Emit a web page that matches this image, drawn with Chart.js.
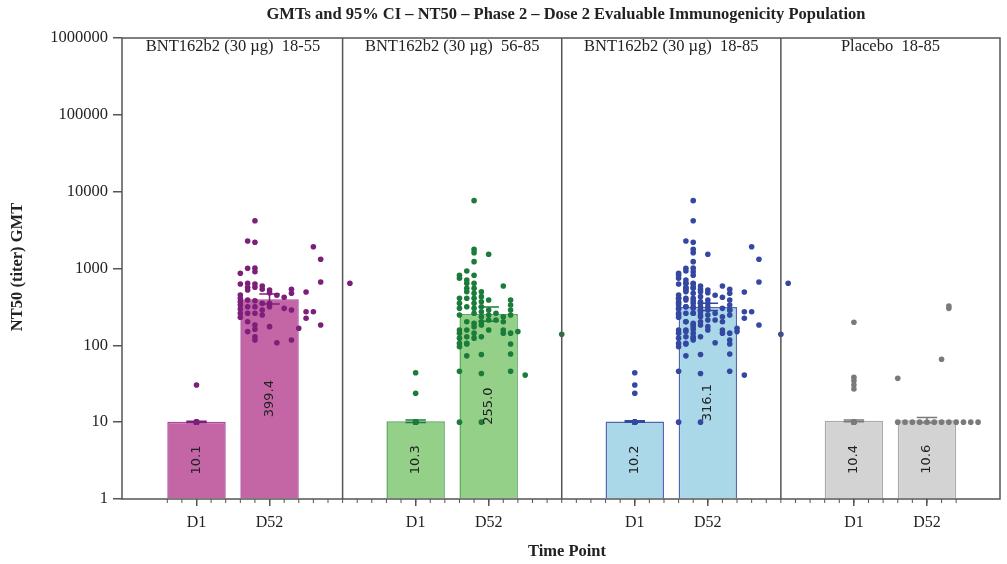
<!DOCTYPE html>
<html>
<head>
<meta charset="utf-8">
<script src="https://cdn.jsdelivr.net/npm/chart.js@4.4.0/dist/chart.umd.min.js"></script>
<style>
  body { margin: 0; background: #fff; }
  #wrap { width: 1007px; height: 564px; }
</style>
</head>
<body>
<div id="wrap"><canvas id="chart"></canvas></div>
<script>
const groups = ['BNT162b2 (30 µg)  18-55', 'BNT162b2 (30 µg)  56-85', 'BNT162b2 (30 µg)  18-85', 'Placebo  18-85'];
const timePoints = ['D1', 'D52'];
const gmt = [[10.1, 399.4], [10.3, 255.0], [10.2, 316.1], [10.4, 10.6]];
const ciLow = [[9.9, 344], [9.9, 206], [10.0, 283], [10.1, 9.8]];
const ciHigh = [[10.3, 464], [10.7, 315], [10.4, 353], [10.7, 11.5]];
const yTicks = [1, 10, 100, 1000, 10000, 100000, 1000000];

// individual titers, grouped by jitter column: [offset, [values]]
const d1_1855 = [[0, [10, 10, 10, 10, 10, 10, 10, 10, 30.5]]];
const d52_1855 = [
  [-2, [866, 629, 452, 410, 370, 335, 297, 261, 232]],
  [-1.5, [2280, 1006, 642, 569, 525, 389, 318, 261, 203, 151]],
  [-1, [4190, 2193, 1010, 909, 629, 569, 381, 318, 261, 184, 162, 129, 117]],
  [-0.5, [592, 536, 352, 288, 248]],
  [0, [525, 484, 352, 318, 175]],
  [0.5, [448, 108]],
  [1, [422, 303]],
  [1.5, [536, 476, 288, 117]],
  [2, [167]],
  [2.5, [495, 274, 225]],
  [3, [1923, 274]],
  [3.5, [1318, 667, 184]],
  [5.5, [642]]
];
const d1_5685 = [[0, [10, 10, 10, 10, 10, 10, 10, 10, 44, 23.8]]];
const d52_5685 = [
  [-2, [816, 746, 410, 352, 303, 248, 158, 144, 124, 106, 96, 46, 10]],
  [-1.5, [929, 708, 642, 553, 499, 410, 318, 203, 158, 129, 106, 104, 73]],
  [-1, [7640, 1778, 1607, 1227, 816, 642, 553, 476, 410, 352, 303, 261, 194, 175, 144, 124]],
  [-0.5, [499, 430, 370, 318, 274, 236, 203, 184, 129, 76, 43, 10]],
  [0, [1531, 389, 288, 248, 214, 158]],
  [0.5, [261, 214]],
  [1, [592, 236, 203, 158, 144]],
  [1.5, [389, 335, 288, 248, 144, 104, 77, 46]],
  [2, [151]],
  [2.5, [41]],
  [5, [139]]
];
const d1_1885 = [[0, [10, 10, 10, 10, 10, 10, 10, 10, 10, 10, 44, 30.5, 23.8]]];
const d52_1885 = [
  [-2, [866, 816, 746, 629, 452, 410, 410, 370, 352, 335, 303, 297, 261, 248, 232, 158, 144, 124, 106, 96, 46, 10]],
  [-1.5, [2280, 1006, 929, 708, 642, 642, 569, 553, 525, 499, 410, 389, 318, 318, 261, 203, 203, 158, 151, 129, 106, 104, 73]],
  [-1, [7640, 4190, 2193, 1778, 1607, 1227, 1010, 909, 816, 642, 629, 569, 553, 476, 410, 381, 352, 318, 303, 261, 261, 194, 184, 175, 162, 144, 129, 124, 117]],
  [-0.5, [592, 536, 499, 430, 370, 352, 318, 288, 274, 248, 236, 203, 184, 129, 76, 43, 10]],
  [0, [1531, 525, 484, 389, 352, 318, 288, 248, 214, 175, 158]],
  [0.5, [448, 261, 214, 108]],
  [1, [592, 422, 303, 236, 203, 158, 144]],
  [1.5, [536, 476, 389, 335, 288, 288, 248, 144, 117, 104, 77, 46]],
  [2, [167, 151]],
  [2.5, [495, 274, 225, 41]],
  [3, [1923, 274]],
  [3.5, [1318, 667, 184]],
  [5, [139]],
  [5.5, [642]]
];
const d1_plac = [[0, [10, 10, 10, 10, 10, 10, 10, 10, 10, 10, 199.5, 38.4, 34.7, 30.5, 27]]];
const d52_plac = [
  [-2, [10, 37.2]], [-1.5, [10]], [-1, [10]], [-0.5, [10]], [0, [10]], [0.5, [10]],
  [1, [10, 65.8]], [1.5, [10, 325, 303]], [2, [10]], [2.5, [10]], [3, [10]], [3.5, [10]]
];
const titers = [[d1_1855, d52_1855], [d1_5685, d52_5685], [d1_1885, d52_1885], [d1_plac, d52_plac]];

const barFill = ['#c466a6', '#95d088', '#aad8e8', '#d3d3d3'];
const barLine = ['#a8489a', '#56a95c', '#5565b6', '#a9a9a9'];
const dotColor = ['#7c1f7a', '#1b7b3b', '#3448a2', '#7a7a7a'];
const axisColor = '#555';
const serif = '"Liberation Serif", "Times New Roman", serif';

const panelWidth = 15;
const posOf = (g, t) => panelWidth * g + 5 + 5 * t;
const majorTicks = groups.flatMap((_, g) => timePoints.map((_, t) => posOf(g, t)));

const toPoints = (center, cols) => cols.flatMap(([off, vals]) => vals.map(v => ({ x: center + off, y: v })));

const datasets = [{
  type: 'bar',
  order: 3,
  data: gmt.flatMap((pair, g) => pair.map((v, t) => ({ x: posOf(g, t), y: v }))),
  backgroundColor: gmt.flatMap((pair, g) => pair.map(() => barFill[g])),
  borderColor: gmt.flatMap((pair, g) => pair.map(() => barLine[g])),
  borderWidth: 1.5,
  barPercentage: 0.8,
  categoryPercentage: 1,
  base: 1
}];
titers.forEach((pair, g) => pair.forEach((cols, t) => {
  datasets.push({
    type: 'scatter',
    order: 1,
    data: toPoints(posOf(g, t), cols),
    backgroundColor: dotColor[g],
    borderWidth: 0,
    pointRadius: 2.8
  });
}));

const decor = {
  id: 'decor',
  afterDatasetsDraw(chart) {
    const { ctx, scales: { x, y } } = chart;
    // confidence intervals
    gmt.forEach((pair, g) => pair.forEach((v, t) => {
      const cx = x.getPixelForValue(posOf(g, t));
      const half = x.getPixelForValue(posOf(g, t) + 0.7) - cx;
      const lo = y.getPixelForValue(ciLow[g][t]);
      const hi = y.getPixelForValue(ciHigh[g][t]);
      ctx.save();
      ctx.strokeStyle = dotColor[g];
      ctx.lineWidth = 1.5;
      ctx.beginPath();
      ctx.moveTo(cx, lo); ctx.lineTo(cx, hi);
      ctx.moveTo(cx - half, lo); ctx.lineTo(cx + half, lo);
      ctx.moveTo(cx - half, hi); ctx.lineTo(cx + half, hi);
      ctx.stroke();
      ctx.restore();
    }));
    // value labels inside bars
    const meta = chart.getDatasetMeta(0);
    const values = gmt.flat();
    meta.data.forEach((bar, i) => {
      ctx.save();
      ctx.translate(bar.x, (bar.y + bar.base) / 2);
      ctx.rotate(-Math.PI / 2);
      ctx.font = '13px "DejaVu Sans", sans-serif';
      ctx.fillStyle = '#222';
      ctx.textAlign = 'center';
      ctx.textBaseline = 'middle';
      ctx.fillText(values[i].toFixed(1), 0, 0);
      ctx.restore();
    });
  },
  afterDraw(chart) {
    const { ctx, chartArea: a, scales: { x } } = chart;
    ctx.save();
    ctx.strokeStyle = axisColor;
    ctx.lineWidth = 1.5;
    ctx.strokeRect(a.left, a.top, a.right - a.left, a.bottom - a.top);
    // panel dividers
    ctx.beginPath();
    for (let g = 1; g < groups.length; g++) {
      const px = x.getPixelForValue(g * panelWidth);
      ctx.moveTo(px, a.top); ctx.lineTo(px, a.bottom);
    }
    ctx.stroke();
    // minor ticks
    ctx.lineWidth = 1;
    ctx.beginPath();
    for (let v = 3; v <= posOf(groups.length - 1, 1) + 2; v++) {
      const px = x.getPixelForValue(v);
      ctx.moveTo(px, a.bottom); ctx.lineTo(px, a.bottom + 4);
    }
    ctx.stroke();
    // panel headers
    ctx.fillStyle = '#222';
    ctx.font = '16.5px ' + serif;
    ctx.textAlign = 'center';
    ctx.textBaseline = 'middle';
    groups.forEach((name, g) => {
      const cx = (x.getPixelForValue(g * panelWidth) + x.getPixelForValue((g + 1) * panelWidth)) / 2;
      ctx.fillText(name, cx, a.top + 9);
    });
    // titles
    ctx.font = 'bold 16.5px ' + serif;
    ctx.fillText('GMTs and 95% CI – NT50 – Phase 2 – Dose 2 Evaluable Immunogenicity Population', 566, 15);
    ctx.fillText('Time Point', 567, 552);
    ctx.translate(18, 267);
    ctx.rotate(-Math.PI / 2);
    ctx.fillText('NT50 (titer) GMT', 0, 0);
    ctx.restore();
  }
};

new Chart(document.getElementById('chart'), {
  type: 'bar',
  data: { datasets },
  options: {
    responsive: true,
    maintainAspectRatio: false,
    animation: false,
    devicePixelRatio: 1,
    layout: { padding: { top: 38, right: 7, left: 0, bottom: 0 } },
    plugins: { legend: { display: false }, tooltip: { enabled: false } },
    scales: {
      x: {
        type: 'linear',
        min: -0.1,
        max: 60,
        offset: false,
        afterBuildTicks: s => { s.ticks = majorTicks.map(v => ({ value: v })); },
        afterFit: s => { s.height = 65; },
        ticks: {
          autoSkip: false,
          maxRotation: 0,
          padding: 7,
          color: '#222',
          font: { family: serif, size: 16 },
          callback: v => timePoints[majorTicks.indexOf(v) % 2]
        },
        grid: { offset: false, drawOnChartArea: false, tickLength: 7, color: axisColor, lineWidth: 1.5 },
        border: { display: false }
      },
      y: {
        type: 'logarithmic',
        min: 1,
        max: 1000000,
        afterBuildTicks: s => { s.ticks = yTicks.map(v => ({ value: v })); },
        afterFit: s => { s.width = 122; },
        ticks: {
          padding: 5,
          color: '#222',
          font: { family: serif, size: 16.5 },
          callback: v => String(v)
        },
        grid: { drawOnChartArea: false, tickLength: 9, color: axisColor, lineWidth: 1.5 },
        border: { display: false }
      }
    }
  },
  plugins: [decor]
});
</script>
</body>
</html>
